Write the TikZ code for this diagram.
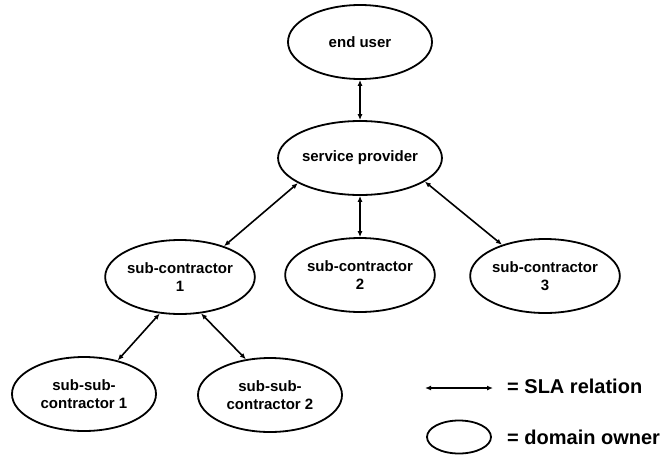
\documentclass[tikz,border=0pt]{standalone}
\usepackage{fontspec}
\setmainfont{Liberation Sans}
\usetikzlibrary{shapes.geometric,arrows.meta}
\begin{document}
\begin{tikzpicture}[x=1pt,y=-1pt,
  owner/.style={ellipse,draw,line width=1.8pt,minimum width=144pt,minimum height=74pt,inner sep=0pt,
    align=center,font=\fontsize{15}{18}\selectfont\bfseries},
  sla/.style={{Latex[length=6pt,width=5pt]}-{Latex[length=6pt,width=5pt]},line width=1.6pt},
  legendtxt/.style={anchor=west,inner sep=0pt,font=\fontsize{20}{24}\selectfont\bfseries}]
\useasboundingbox (0,0) rectangle (660,455);
\node[owner] (eu) at (360,42) {end user};
\node[owner] (sp) at (360,158) {service provider};
\node[owner] (s1) at (180,277) {sub-contractor\\1};
\node[owner] (s2) at (360,275) {sub-contractor\\2};
\node[owner] (s3) at (545,276) {sub-contractor\\3};
\node[owner] (ss1) at (84,394) {sub-sub-\\contractor 1};
\node[owner] (ss2) at (270,395) {sub-sub-\\contractor 2};
\draw[sla] (eu.south) -- (sp.north);
\draw[sla] (sp.south) -- (s2.north);
\draw[sla] (sp.202) -- (s1.35);
\draw[sla] (sp.340) -- (s3.144);
\draw[sla] (s1.241) -- (ss1.45);
\draw[sla] (s1.300) -- (ss2.124);
% legend
\coordinate (la) at (425,388);
\coordinate (lb) at (493,388);
\draw[sla] (la) -- (lb);
\node[legendtxt] (t1) at (507,386) {= SLA relation};
\node[ellipse,draw,line width=1.8pt,minimum width=64pt,minimum height=33pt,inner sep=0pt] (le) at (459,437) {};
\node[legendtxt] (t2) at (507,437) {= domain owner};
\end{tikzpicture}
\end{document}
